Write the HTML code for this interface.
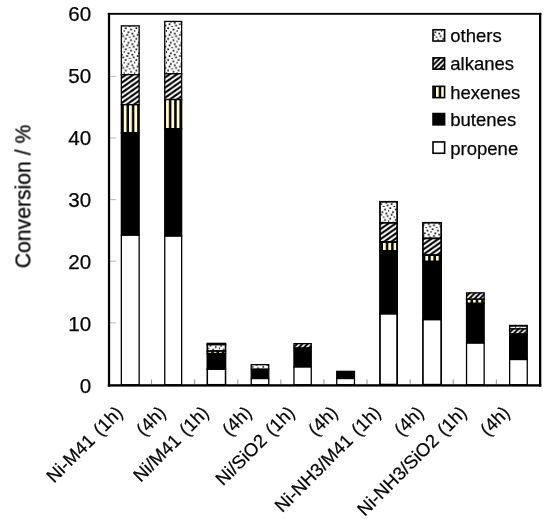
<!DOCTYPE html>
<html><head><meta charset="utf-8"><title>Conversion chart</title>
<style>
html,body{margin:0;padding:0;background:#fff;}
body{width:550px;height:519px;overflow:hidden;}
svg{display:block;}
svg text{font-family:"Liberation Sans",sans-serif;fill:#000;stroke:#000;stroke-width:0.25px;}
</style></head><body>
<svg width="550" height="519" viewBox="0 0 550 519">
<defs>
<pattern id="diag45" x="0" y="0" width="5.291" height="5.291" patternUnits="userSpaceOnUse"><rect width="5.291" height="5.291" fill="#fff"/><line x1="-5.291" y1="-4.537" x2="-4.537" y2="-5.291" stroke="#000" stroke-width="1.945"/><line x1="-5.291" y1="0.755" x2="0.755" y2="-5.291" stroke="#000" stroke-width="1.945"/><line x1="-5.291" y1="6.046" x2="6.046" y2="-5.291" stroke="#000" stroke-width="1.945"/><line x1="-5.291" y1="11.337" x2="11.337" y2="-5.291" stroke="#000" stroke-width="1.945"/><line x1="-5.291" y1="16.628" x2="16.628" y2="-5.291" stroke="#000" stroke-width="1.945"/><line x1="-5.291" y1="21.919" x2="21.919" y2="-5.291" stroke="#000" stroke-width="1.945"/><line x1="-5.291" y1="27.210" x2="27.210" y2="-5.291" stroke="#000" stroke-width="1.945"/></pattern>
<pattern id="dots" x="8.237" y="5.915" width="10.582" height="10.582" patternUnits="userSpaceOnUse"><rect width="10.582" height="10.582" fill="#fff"/><rect x="0.336" y="0.336" width="1.65" height="1.65" fill="#000"/><rect x="5.627" y="1.659" width="1.65" height="1.65" fill="#000"/><rect x="9.596" y="2.982" width="1.65" height="1.65" fill="#000"/><rect x="2.982" y="4.305" width="1.65" height="1.65" fill="#000"/><rect x="6.950" y="5.627" width="1.65" height="1.65" fill="#000"/><rect x="1.659" y="6.950" width="1.65" height="1.65" fill="#000"/><rect x="8.273" y="8.273" width="1.65" height="1.65" fill="#000"/><rect x="4.305" y="9.596" width="1.65" height="1.65" fill="#000"/></pattern>
<pattern id="diag" x="0" y="0" width="7.1835" height="5.05" patternUnits="userSpaceOnUse"><rect width="7.1835" height="5.05" fill="#fff"/><line x1="-7.183" y1="-8.420" x2="14.367" y2="-23.570" stroke="#000" stroke-width="2.148"/><line x1="-7.183" y1="-3.370" x2="14.367" y2="-18.520" stroke="#000" stroke-width="2.148"/><line x1="-7.183" y1="1.680" x2="14.367" y2="-13.470" stroke="#000" stroke-width="2.148"/><line x1="-7.183" y1="6.730" x2="14.367" y2="-8.420" stroke="#000" stroke-width="2.148"/><line x1="-7.183" y1="11.780" x2="14.367" y2="-3.370" stroke="#000" stroke-width="2.148"/><line x1="-7.183" y1="16.830" x2="14.367" y2="1.680" stroke="#000" stroke-width="2.148"/><line x1="-7.183" y1="21.880" x2="14.367" y2="6.730" stroke="#000" stroke-width="2.148"/><line x1="-7.183" y1="26.930" x2="14.367" y2="11.780" stroke="#000" stroke-width="2.148"/></pattern>
<pattern id="vert" x="2.087" y="0" width="5.291" height="5.291" patternUnits="userSpaceOnUse"><rect width="5.291" height="5.291" fill="#000"/><rect x="0" y="0" width="2.796" height="5.291" fill="#ffffcc"/></pattern>
</defs>
<rect x="0" y="0" width="550" height="519" fill="#fff"/>
<line x1="110.0" y1="322.87" x2="116.2" y2="322.87" stroke="#aaa" stroke-width="0.8"/>
<line x1="110.0" y1="261.24" x2="116.2" y2="261.24" stroke="#aaa" stroke-width="0.8"/>
<line x1="110.0" y1="199.61" x2="116.2" y2="199.61" stroke="#aaa" stroke-width="0.8"/>
<line x1="110.0" y1="137.98" x2="116.2" y2="137.98" stroke="#aaa" stroke-width="0.8"/>
<line x1="110.0" y1="76.35" x2="116.2" y2="76.35" stroke="#aaa" stroke-width="0.8"/>
<line x1="151.55" y1="379.5" x2="151.55" y2="384.4" stroke="#888" stroke-width="0.9"/>
<line x1="194.65" y1="379.5" x2="194.65" y2="384.4" stroke="#888" stroke-width="0.9"/>
<line x1="237.75" y1="379.5" x2="237.75" y2="384.4" stroke="#888" stroke-width="0.9"/>
<line x1="280.85" y1="379.5" x2="280.85" y2="384.4" stroke="#888" stroke-width="0.9"/>
<line x1="323.95" y1="379.5" x2="323.95" y2="384.4" stroke="#888" stroke-width="0.9"/>
<line x1="367.05" y1="379.5" x2="367.05" y2="384.4" stroke="#888" stroke-width="0.9"/>
<line x1="410.15" y1="379.5" x2="410.15" y2="384.4" stroke="#888" stroke-width="0.9"/>
<line x1="453.25" y1="379.5" x2="453.25" y2="384.4" stroke="#888" stroke-width="0.9"/>
<line x1="496.35" y1="379.5" x2="496.35" y2="384.4" stroke="#888" stroke-width="0.9"/>
<rect x="121.35" y="25.85" width="17.80" height="48.80" fill="url(#dots)" stroke="#000" stroke-width="1.3"/>
<rect x="121.35" y="74.65" width="17.80" height="30.10" fill="url(#diag)" stroke="#000" stroke-width="1.3"/>
<rect x="121.35" y="104.75" width="17.80" height="27.90" fill="url(#vert)" stroke="#000" stroke-width="1.3"/>
<rect x="121.35" y="132.65" width="17.80" height="102.60" fill="#000" stroke="#000" stroke-width="1.3"/>
<rect x="121.35" y="235.25" width="17.80" height="149.60" fill="#fff" stroke="#000" stroke-width="1.3"/>
<rect x="164.75" y="21.45" width="16.90" height="52.30" fill="url(#dots)" stroke="#000" stroke-width="1.3"/>
<rect x="164.75" y="73.75" width="16.90" height="25.80" fill="url(#diag)" stroke="#000" stroke-width="1.3"/>
<rect x="164.75" y="99.55" width="16.90" height="29.10" fill="url(#vert)" stroke="#000" stroke-width="1.3"/>
<rect x="164.75" y="128.65" width="16.90" height="107.50" fill="#000" stroke="#000" stroke-width="1.3"/>
<rect x="164.75" y="236.15" width="16.90" height="148.70" fill="#fff" stroke="#000" stroke-width="1.3"/>
<rect x="207.28" y="343.47" width="18.25" height="1.20" fill="#000" stroke="#000" stroke-width="1.55"/>
<rect x="207.28" y="344.67" width="18.25" height="6.40" fill="url(#dots)" stroke="#000" stroke-width="1.55"/>
<rect x="207.28" y="351.07" width="18.25" height="2.60" fill="url(#vert)" stroke="#000" stroke-width="1.55"/>
<rect x="207.28" y="353.67" width="18.25" height="15.50" fill="#000" stroke="#000" stroke-width="1.55"/>
<rect x="207.28" y="369.17" width="18.25" height="15.55" fill="#fff" stroke="#000" stroke-width="1.55"/>
<rect x="251.25" y="364.65" width="17.50" height="4.60" fill="url(#dots)" stroke="#000" stroke-width="1.3"/>
<rect x="251.25" y="369.25" width="17.50" height="9.30" fill="#000" stroke="#000" stroke-width="1.3"/>
<rect x="251.25" y="378.55" width="17.50" height="6.30" fill="#fff" stroke="#000" stroke-width="1.3"/>
<rect x="293.95" y="343.65" width="17.30" height="4.40" fill="url(#diag45)" stroke="#000" stroke-width="1.3"/>
<rect x="293.95" y="348.05" width="17.30" height="19.00" fill="#000" stroke="#000" stroke-width="1.3"/>
<rect x="293.95" y="367.05" width="17.30" height="17.80" fill="#fff" stroke="#000" stroke-width="1.3"/>
<rect x="336.75" y="371.35" width="17.70" height="7.20" fill="#000" stroke="#000" stroke-width="1.3"/>
<rect x="336.75" y="378.55" width="17.70" height="6.30" fill="#fff" stroke="#000" stroke-width="1.3"/>
<rect x="379.98" y="201.78" width="17.15" height="21.10" fill="url(#dots)" stroke="#000" stroke-width="1.75"/>
<rect x="379.98" y="222.88" width="17.15" height="19.20" fill="url(#diag)" stroke="#000" stroke-width="1.75"/>
<rect x="379.98" y="242.07" width="17.15" height="8.80" fill="url(#vert)" stroke="#000" stroke-width="1.75"/>
<rect x="379.98" y="250.88" width="17.15" height="62.95" fill="#000" stroke="#000" stroke-width="1.75"/>
<rect x="379.98" y="313.82" width="17.15" height="70.80" fill="#fff" stroke="#000" stroke-width="1.75"/>
<rect x="422.95" y="222.75" width="18.20" height="15.70" fill="url(#dots)" stroke="#000" stroke-width="1.7"/>
<rect x="422.95" y="238.45" width="18.20" height="16.70" fill="url(#diag)" stroke="#000" stroke-width="1.7"/>
<rect x="422.95" y="255.15" width="18.20" height="6.40" fill="url(#vert)" stroke="#000" stroke-width="1.7"/>
<rect x="422.95" y="261.55" width="18.20" height="58.00" fill="#000" stroke="#000" stroke-width="1.7"/>
<rect x="422.95" y="319.55" width="18.20" height="65.10" fill="#fff" stroke="#000" stroke-width="1.7"/>
<rect x="466.55" y="292.85" width="17.60" height="6.40" fill="url(#diag45)" stroke="#000" stroke-width="1.3"/>
<rect x="466.55" y="299.25" width="17.60" height="4.10" fill="url(#vert)" stroke="#000" stroke-width="1.3"/>
<rect x="466.55" y="303.35" width="17.60" height="39.80" fill="#000" stroke="#000" stroke-width="1.3"/>
<rect x="466.55" y="343.15" width="17.60" height="41.70" fill="#fff" stroke="#000" stroke-width="1.3"/>
<rect x="509.65" y="325.45" width="17.60" height="0.60" fill="#000" stroke="#000" stroke-width="1.3"/>
<rect x="509.65" y="326.05" width="17.60" height="2.90" fill="url(#dots)" stroke="#000" stroke-width="1.3"/>
<rect x="509.65" y="328.95" width="17.60" height="5.10" fill="url(#diag45)" stroke="#000" stroke-width="1.3"/>
<rect x="509.65" y="334.05" width="17.60" height="25.50" fill="#000" stroke="#000" stroke-width="1.3"/>
<rect x="509.65" y="359.55" width="17.60" height="25.30" fill="#fff" stroke="#000" stroke-width="1.3"/>
<rect x="107.8" y="12.9" width="433.5" height="1.85" fill="#000"/><rect x="107.9" y="12.9" width="2.25" height="373.7" fill="#000"/><rect x="107.8" y="384.2" width="433.5" height="2.4" fill="#000"/><rect x="539.0" y="12.9" width="2.3" height="373.7" fill="#000"/>
<g opacity="0.996">
<text x="91.2" y="392.60" text-anchor="end" font-size="20.6">0</text>
<text x="91.2" y="330.70" text-anchor="end" font-size="20.6">10</text>
<text x="91.2" y="268.80" text-anchor="end" font-size="20.6">20</text>
<text x="91.2" y="206.90" text-anchor="end" font-size="20.6">30</text>
<text x="91.2" y="145.00" text-anchor="end" font-size="20.6">40</text>
<text x="91.2" y="83.10" text-anchor="end" font-size="20.6">50</text>
<text x="91.2" y="21.20" text-anchor="end" font-size="20.6">60</text>
<text transform="translate(30.4,196.5) rotate(-90)" text-anchor="middle" font-size="21.2">Conversion / %</text>
<text transform="translate(123.90,413.80) rotate(-45)" text-anchor="end" font-size="18.4" word-spacing="1.8">Ni-M41 (1h)</text>
<text transform="translate(166.90,413.80) rotate(-45)" text-anchor="end" font-size="18.4" word-spacing="1.8">(4h)</text>
<text transform="translate(209.90,413.80) rotate(-45)" text-anchor="end" font-size="18.4" word-spacing="1.8">Ni/M41 (1h)</text>
<text transform="translate(252.90,413.80) rotate(-45)" text-anchor="end" font-size="18.4" word-spacing="1.8">(4h)</text>
<text transform="translate(295.90,413.80) rotate(-45)" text-anchor="end" font-size="18.4" word-spacing="1.8">Ni/SiO2 (1h)</text>
<text transform="translate(338.90,413.80) rotate(-45)" text-anchor="end" font-size="18.4" word-spacing="1.8">(4h)</text>
<text transform="translate(381.90,413.80) rotate(-45)" text-anchor="end" font-size="18.4" word-spacing="1.8">Ni-NH3/M41 (1h)</text>
<text transform="translate(424.90,413.80) rotate(-45)" text-anchor="end" font-size="18.4" word-spacing="1.8">(4h)</text>
<text transform="translate(467.90,413.80) rotate(-45)" text-anchor="end" font-size="18.4" word-spacing="1.8">Ni-NH3/SiO2 (1h)</text>
<text transform="translate(510.90,413.80) rotate(-45)" text-anchor="end" font-size="18.4" word-spacing="1.8">(4h)</text>
<rect x="433.0" y="29.75" width="11.6" height="11.3" fill="url(#dots)" stroke="#000" stroke-width="1.6"/>
<text x="450.3" y="42.30" font-size="18.5">others</text>
<rect x="433.0" y="57.85" width="11.6" height="11.3" fill="url(#diag45)" stroke="#000" stroke-width="1.6"/>
<text x="450.3" y="70.40" font-size="18.5">alkanes</text>
<rect x="433.0" y="86.35" width="11.6" height="11.3" fill="url(#vert)" stroke="#000" stroke-width="1.6"/>
<text x="450.3" y="98.90" font-size="18.5">hexenes</text>
<rect x="433.0" y="113.55" width="11.6" height="11.3" fill="#000" stroke="#000" stroke-width="1.6"/>
<text x="450.3" y="126.10" font-size="18.5">butenes</text>
<rect x="433.0" y="141.95" width="11.6" height="11.3" fill="#fff" stroke="#000" stroke-width="1.6"/>
<text x="450.3" y="154.50" font-size="18.5">propene</text>
</g>
</svg>
</body></html>
